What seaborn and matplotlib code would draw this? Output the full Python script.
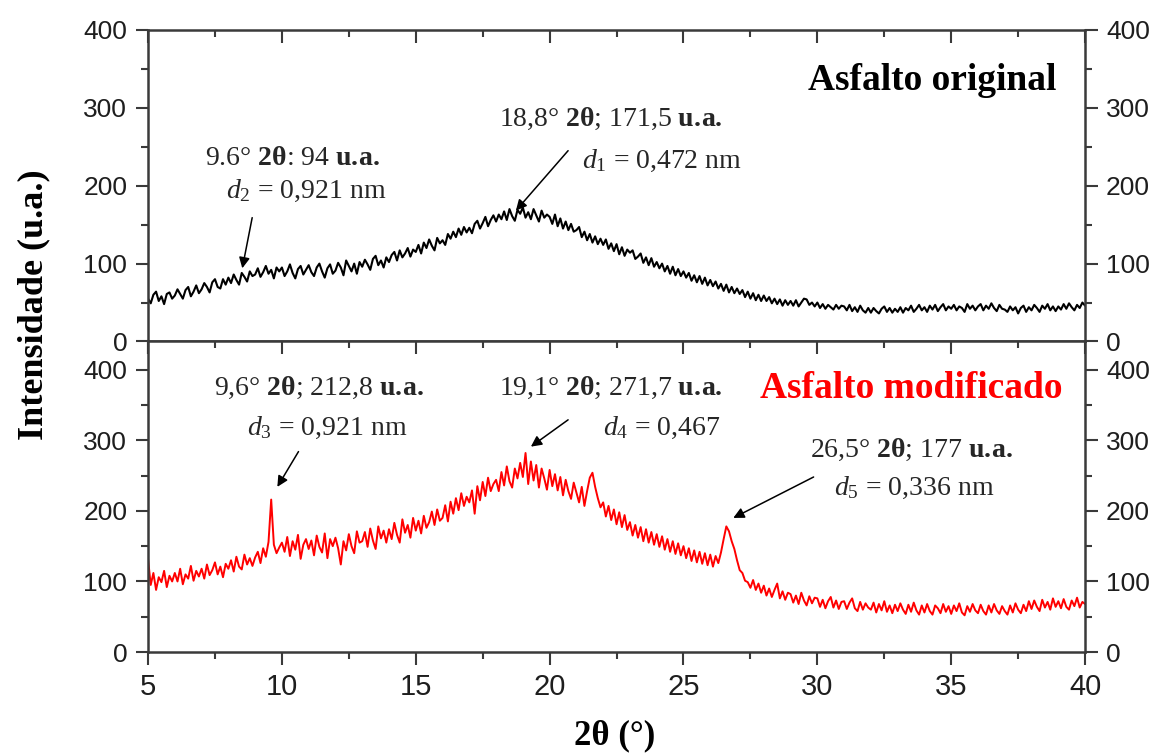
import numpy as np
import pandas as pd
import matplotlib
matplotlib.use("Agg")
import matplotlib.pyplot as plt
from matplotlib import font_manager
from matplotlib.ticker import MultipleLocator
import seaborn as sns

# ---------------- data (0.1 deg steps, 5.0 .. 40.0) ----------------
theta_start, theta_stop, theta_n = 5.0, 40.0, 351

asfalto_original = [
    55, 49, 60, 64, 52, 58, 48, 61, 63, 55,
    59, 67, 61, 55, 66, 70, 58, 64, 72, 62,
    67, 75, 70, 63, 76, 80, 70, 68, 80, 73,
    82, 75, 86, 79, 73, 88, 83, 77, 90, 84,
    86, 94, 83, 89, 97, 87, 92, 81, 95, 90,
    95, 84, 90, 99, 88, 81, 93, 97, 86, 92,
    98, 89, 84, 95, 100, 90, 82, 94, 99, 87,
    91, 101, 95, 85, 104, 97, 90, 100, 87, 102,
    96, 105, 99, 92, 106, 110, 98, 104, 95, 108,
    102, 111, 115, 104, 117, 108, 113, 120, 109, 118,
    115, 124, 113, 127, 120, 131, 123, 117, 133, 126,
    130, 124, 138, 132, 141, 134, 145, 137, 147, 140,
    146, 139, 151, 155, 145, 152, 160, 148, 156, 162,
    154, 163, 157, 167, 156, 170, 161, 155, 169, 164,
    172, 159, 166, 157, 170, 162, 154, 168, 159, 163,
    160, 151, 163, 148, 158, 145, 154, 143, 151, 141,
    143, 147, 134, 141, 130, 138, 127, 135, 125, 132,
    124, 131, 119, 126, 116, 125, 112, 121, 110, 118,
    114, 117, 106, 109, 113, 101, 108, 98, 107, 96,
    102, 94, 100, 90, 97, 87, 96, 85, 93, 84,
    90, 82, 88, 78, 85, 76, 84, 74, 82, 72,
    79, 71, 77, 68, 74, 65, 73, 63, 70, 62,
    68, 61, 66, 57, 64, 55, 62, 53, 60, 52,
    59, 52, 57, 49, 55, 48, 54, 46, 53, 47,
    52, 46, 53, 45, 50, 55, 54, 47, 50, 45,
    50, 43, 48, 42, 47, 44, 41, 47, 42, 46,
    45, 40, 47, 39, 44, 38, 46, 40, 37, 43,
    37, 43, 39, 36, 42, 45, 38, 43, 37, 42,
    38, 44, 37, 43, 40, 46, 38, 42, 47, 40,
    44, 38, 46, 41, 47, 39, 44, 48, 40, 45,
    42, 47, 40, 45, 43, 38, 48, 42, 46, 40,
    45, 48, 40, 46, 42, 49, 43, 39, 47, 42,
    41, 38, 45, 40, 44, 36, 43, 46, 38, 44,
    40, 47, 43, 38, 46, 42, 48, 40, 45, 39,
    45, 41, 48, 42, 49, 44, 40, 47, 43, 50,
    46,
]

asfalto_modificado = [
    132, 95, 112, 88, 106, 99, 115, 92, 108, 100,
    112, 100, 118, 96, 110, 104, 122, 101, 115, 107,
    118, 104, 124, 109, 116, 127, 110, 121, 106, 125,
    118, 130, 114, 135, 121, 117, 138, 124, 133, 122,
    134, 142, 126, 147, 135, 156, 216, 152, 140, 148,
    155, 142, 163, 136, 157, 145, 166, 132, 152, 160,
    146, 158, 137, 165, 149, 141, 168, 133, 160, 150,
    162, 147, 124, 157, 144, 167, 150, 140, 171, 155,
    157, 170, 149, 175, 158, 146, 178, 161, 172, 155,
    174, 160, 183, 166, 155, 188, 169, 180, 162, 190,
    172, 186, 168, 193, 176, 184, 199, 180, 202, 186,
    190, 208, 185, 213, 196, 218, 201, 225, 207, 220,
    212, 229, 196, 235, 215, 241, 221, 247, 228, 238,
    244, 228, 255, 236, 263, 242, 233, 260, 246, 268,
    248, 282, 238, 270, 243, 265, 233, 260, 246, 230,
    258, 235, 252, 229, 248, 222, 244, 228, 217, 240,
    226, 212, 234, 207, 228, 247, 254, 234, 218, 205,
    212, 192, 207, 187, 202, 181, 198, 177, 194, 173,
    184, 165, 180, 162, 177, 157, 174, 155, 170, 152,
    167, 149, 164, 145, 160, 142, 157, 139, 154, 137,
    150, 133, 147, 129, 144, 127, 142, 125, 140, 123,
    138, 121, 136, 126, 141, 160, 178, 171, 157, 146,
    130, 116, 112, 101, 99, 91, 102, 88, 97, 84,
    94, 80, 90, 78, 88, 97, 76, 86, 74, 84,
    82, 70, 80, 68, 84, 73, 66, 79, 69, 77,
    76, 64, 74, 62, 72, 78, 63, 73, 61, 71,
    72, 61, 70, 76, 62, 58, 71, 60, 69, 63,
    60, 70, 56, 68, 59, 72, 57, 66, 55, 67,
    58, 69, 60, 54, 67, 57, 70, 59, 53, 66,
    56, 68, 58, 53, 66, 62, 55, 68, 57, 65,
    54, 66, 58, 69, 56, 52, 65, 57, 68, 59,
    55, 67, 58, 53, 66, 56, 68, 59, 54, 65,
    58, 53, 66, 56, 69, 60, 55, 67, 58, 72,
    61, 73, 64, 58, 74, 63, 71, 60, 76, 64,
    72, 62, 75, 64, 60, 73, 65, 77, 63, 71,
    68,
]

x_ticks = [5, 10, 15, 20, 25, 30, 35, 40]
y_ticks = [0, 100, 200, 300, 400]

two_theta = np.round(np.linspace(theta_start, theta_stop, theta_n), 1)
df_top = pd.DataFrame({"2θ": two_theta, "I": asfalto_original})
df_bot = pd.DataFrame({"2θ": two_theta, "I": asfalto_modificado})

# ---------------- style ----------------
sns.set_theme(style="ticks")
plt.rcParams["font.family"] = ["Liberation Sans", "DejaVu Sans"]
plt.rcParams["mathtext.fontset"] = "custom"
plt.rcParams["mathtext.rm"] = "Liberation Serif"
plt.rcParams["mathtext.it"] = "Liberation Serif:italic"
plt.rcParams["mathtext.bf"] = "Liberation Serif:bold"

names = {f.name for f in font_manager.fontManager.ttflist}
xtick_font = "Liberation Sans Narrow" if "Liberation Sans Narrow" in names else "Liberation Sans"
serif = ["Liberation Serif", "DejaVu Serif"]
spine_c = "#3a3a3a"
lab_c = "#1e1e1e"

fig = plt.figure(figsize=(11.62, 7.55), dpi=100)
ax_top = fig.add_axes([0.1274, 0.5477, 0.8064, 0.4126])
ax_bot = fig.add_axes([0.1274, 0.1364, 0.8064, 0.4113], sharex=ax_top)

sns.lineplot(data=df_top, x="2θ", y="I", ax=ax_top, color="black", lw=1.5,
             estimator=None, sort=False)
sns.lineplot(data=df_bot, x="2θ", y="I", ax=ax_bot, color="#ff0000", lw=1.4,
             estimator=None, sort=False)

for ax, ytop in ((ax_top, 400), (ax_bot, 440)):
    ax.set_xlim(5, 40)
    ax.set_ylim(0, ytop)
    ax.set_xlabel("")
    ax.set_ylabel("")
    ax.set_yticks(y_ticks)
    ax.yaxis.set_minor_locator(MultipleLocator(50))
    ax.xaxis.set_minor_locator(MultipleLocator(2.5))
    for s in ax.spines.values():
        s.set_visible(True)
        s.set_color(spine_c)
        s.set_linewidth(1.8)
    ax.tick_params(axis="y", which="both", direction="out", left=True, right=True,
                   labelleft=True, labelright=True, color=spine_c, width=1.5,
                   labelsize=19, labelcolor=lab_c, pad=6)
    ax.tick_params(axis="y", which="major", length=9)
    ax.tick_params(axis="y", which="minor", length=5)
    ax.tick_params(axis="x", which="both", direction="out", bottom=True, top=False,
                   color=spine_c, width=1.5, labelcolor=lab_c, pad=6)
    ax.tick_params(axis="x", which="major", length=9)
    ax.tick_params(axis="x", which="minor", length=5)
    sec = ax.secondary_xaxis("top")
    sec.set_xticks(x_ticks)
    sec.xaxis.set_minor_locator(MultipleLocator(2.5))
    sec.tick_params(axis="x", which="both", direction="in", labeltop=False,
                    color=spine_c, width=1.5)
    sec.tick_params(axis="x", which="major", length=9)
    sec.tick_params(axis="x", which="minor", length=5)
    sec.spines["top"].set_visible(False)

ax_top.tick_params(axis="x", labelbottom=False)
ax_bot.set_xticks(x_ticks)
for lbl in ax_bot.get_xticklabels():
    lbl.set_fontfamily(xtick_font)
    lbl.set_fontsize(21)

# ---------------- annotations ----------------
arrow = dict(arrowstyle="-|>", color="black", lw=1.1, mutation_scale=16,
             shrinkA=0, shrinkB=0)
ann_fs = 20
UA = r"$\mathbf{u.\!a.}$"
TT = r"$\mathbf{2θ}$"

# top panel
ax_top.text(34.3, 335, "Asfalto original", family=serif, weight="bold",
            fontsize=27, ha="center", va="center", color="black")
ax_top.text(10.4, 235, "9.6° " + TT + ": 94 " + UA, family=serif,
            fontsize=ann_fs, ha="center", va="center")
ax_top.text(10.9, 193, r"$d_2$ = 0,921 nm", family=serif, fontsize=ann_fs,
            ha="center", va="center")
ax_top.annotate("", xy=(8.52, 94), xytext=(8.89, 159), arrowprops=arrow)
ax_top.text(22.3, 286, "18,8° " + TT + "; 171,5 " + UA, family=serif,
            fontsize=ann_fs, ha="center", va="center")
ax_top.text(24.2, 232, r"$d_1$ = 0,472 nm", family=serif, fontsize=ann_fs,
            ha="center", va="center")
ax_top.annotate("", xy=(18.74, 168), xytext=(20.69, 245), arrowprops=arrow)

# bottom panel
ax_bot.text(33.5, 374, "Asfalto modificado", family=serif, weight="bold",
            fontsize=27, ha="center", va="center", color="#ff0000")
ax_bot.text(11.4, 374, "9,6° " + TT + "; 212,8 " + UA, family=serif,
            fontsize=ann_fs, ha="center", va="center")
ax_bot.text(11.7, 318, r"$d_3$ = 0,921 nm", family=serif, fontsize=ann_fs,
            ha="center", va="center")
ax_bot.annotate("", xy=(9.83, 234), xytext=(10.62, 284), arrowprops=arrow)
ax_bot.text(22.3, 374, "19,1° " + TT + "; 271,7 " + UA, family=serif,
            fontsize=ann_fs, ha="center", va="center")
ax_bot.text(24.2, 318, r"$d_4$ = 0,467", family=serif, fontsize=ann_fs,
            ha="center", va="center")
ax_bot.annotate("", xy=(19.3, 291), xytext=(20.69, 329), arrowprops=arrow)
ax_bot.text(33.5, 287, "26,5° " + TT + "; 177 " + UA, family=serif,
            fontsize=ann_fs, ha="center", va="center")
ax_bot.text(33.6, 233, r"$d_5$ = 0,336 nm", family=serif, fontsize=ann_fs,
            ha="center", va="center")
ax_bot.annotate("", xy=(26.86, 190), xytext=(29.86, 248), arrowprops=arrow)

# axis titles
fig.text(0.029, 0.596, "Intensidade (u.a.)", rotation=90, family=serif,
         weight="bold", fontsize=26, ha="center", va="center", color="black")
fig.text(0.529, 0.026, "2θ (°)", family=serif, weight="bold", fontsize=25,
         ha="center", va="center", color="black")

fig.savefig("out.png", dpi=100)
